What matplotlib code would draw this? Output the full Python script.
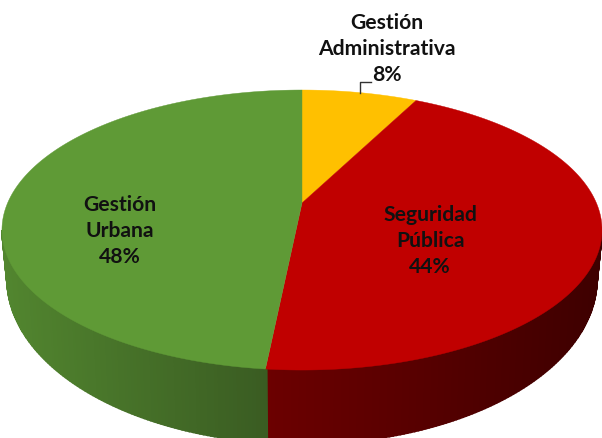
import numpy as np
import matplotlib
matplotlib.use('Agg')
import matplotlib.pyplot as plt
from matplotlib.colors import to_rgb

# shares, they round to the printed 8 / 44 / 48
names = ['Gestión\nAdministrativa', 'Seguridad\nPública', 'Gestión\nUrbana']
shares = [7.5, 44.1, 48.4]
pct_labels = ['8%', '44%', '48%']
top_colors = ['#FFC000', '#C00000', '#5F9A36']
side_left = ['#7a5c00', '#6C0000', '#3A5C22']
side_right = ['#7a5c00', '#3E0000', '#52862F']
label_pos = [(387, 49), (430, 241), (120, 231)]

# top face, circle seen in perspective
cx, cy = 302, 203
k = 0.193
A, B = 294.4, 134.8
# lower rim of the side wall
ell_cy, ell_b = 230, 140
rim_cy, rim_a, rim_b = 279, 295, 165


def project(t):
    w = 1 + k * np.cos(t)
    return cx + A * np.sin(t) / w, cy - B * np.cos(t) / w


fig = plt.figure(figsize=(6.02, 4.38), dpi=100)
ax = fig.add_axes([0, 0, 1, 1])
ax.set_xlim(0, 602)
ax.set_ylim(438, 0)
ax.axis('off')

edges = 2 * np.pi * np.cumsum([0] + shares) / 100

# side wall, from the right end of the disc to the left end
phi = np.linspace(0, np.pi, 241)
top_x = cx + 300 * np.cos(phi)
top_y = ell_cy + ell_b * np.sin(phi)
bot_x = cx + rim_a * np.cos(phi)
bot_y = rim_cy + rim_b * np.sin(phi)
split_x = project(edges[2])[0]
for i in range(len(phi) - 1):
    mid = (top_x[i] + top_x[i + 1]) / 2
    s = 2 if mid < split_x else 1
    if s == 1:
        f = (mid - split_x) / (602 - split_x)
    else:
        f = (split_x - mid) / split_x
    col = (1 - f) * np.array(to_rgb(side_left[s])) + f * np.array(to_rgb(side_right[s]))
    ax.fill([top_x[i], top_x[i + 1], bot_x[i + 1], bot_x[i]],
            [top_y[i], top_y[i + 1], bot_y[i + 1], bot_y[i]],
            color=col, lw=1.2, zorder=1)

# top face
for i, col in enumerate(top_colors):
    t = np.linspace(edges[i], edges[i + 1], 200)
    x, y = project(t)
    ax.fill(np.r_[cx, x], np.r_[cy, y], color=col, lw=0.3, zorder=2)

# leader line of the small slice
ax.plot([360, 360, 371], [93, 82, 82], color='#333333', lw=1, zorder=3)

for name, pct, (lx, ly) in zip(names, pct_labels, label_pos):
    ax.text(lx, ly, name + '\n' + pct, ha='center', va='center', family='Lato',
            fontweight='bold', fontsize=15.2, linespacing=1.4, color='#111111', zorder=4)

fig.savefig('out.png', dpi=100)
